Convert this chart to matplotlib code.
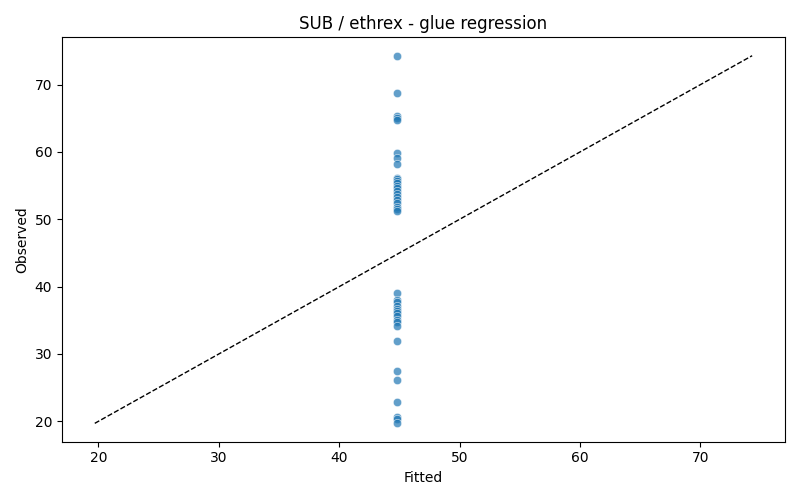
import matplotlib
matplotlib.use("Agg")
import matplotlib.pyplot as plt
import seaborn as sns

observed = [74.3, 68.8, 65.4, 65.1, 64.8, 59.9, 59.1, 58.2,
            56.2, 56.0, 55.7, 55.4, 55.0, 54.6, 54.2, 53.7, 53.3, 52.9,
            52.4, 51.9, 51.5, 51.2,
            39.0, 38.0, 37.7, 37.2, 36.7, 36.4, 36.1, 35.6, 35.1, 34.7, 34.2,
            32.0, 27.4, 26.1, 22.9, 20.7, 20.3, 19.7]
fitted = [44.8, 44.8, 44.8, 44.8, 44.8, 44.8, 44.8, 44.8,
          44.8, 44.8, 44.8, 44.8, 44.8, 44.8, 44.8, 44.8, 44.8, 44.8,
          44.8, 44.8, 44.8, 44.8,
          44.8, 44.8, 44.8, 44.8, 44.8, 44.8, 44.8, 44.8, 44.8, 44.8, 44.8,
          44.8, 44.8, 44.8, 44.8, 44.8, 44.8, 44.8]

fig, ax = plt.subplots(figsize=(8, 5), dpi=100)
sns.scatterplot(x=fitted, y=observed, alpha=0.7, ax=ax)

lo = min(min(observed), min(fitted))
hi = max(max(observed), max(fitted))
ax.plot([lo, hi], [lo, hi], "k--", lw=1)

ax.set_xlabel("Fitted")
ax.set_ylabel("Observed")
ax.set_title("SUB / ethrex - glue regression")
fig.tight_layout()
fig.savefig("out.png")
